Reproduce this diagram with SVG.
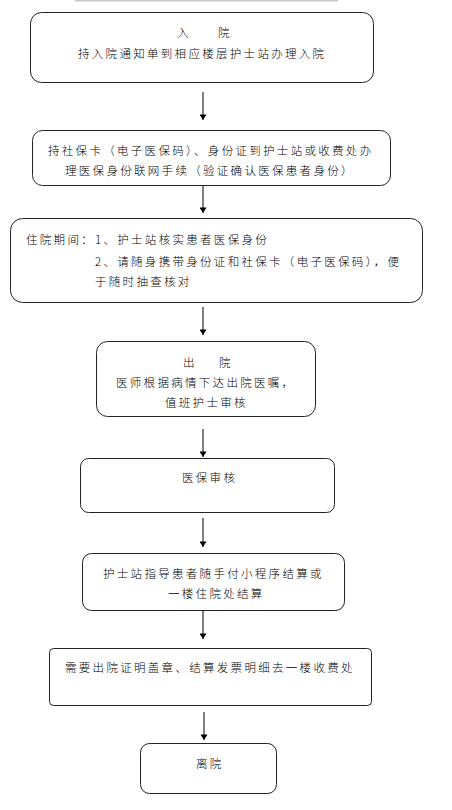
<svg xmlns="http://www.w3.org/2000/svg" width="452" height="810" viewBox="0 0 452 810">
<defs>
<marker id="ah" viewBox="0 0 8 10" refX="8" refY="5" markerWidth="8" markerHeight="7" markerUnits="userSpaceOnUse" orient="auto">
<path d="M0,0 L8,5 L0,10 z" fill="#000"/>
</marker>
</defs>
<style>
.box{fill:#fff;stroke:#222;stroke-width:1}
.t{font-family:"Noto Sans CJK SC","Noto Sans",sans-serif;font-size:11.5px;font-weight:300;letter-spacing:2.3px;fill:#000}
.c{stroke:#000;stroke-width:1;fill:none;marker-end:url(#ah)}
</style>
<rect x="75" y="0" width="263" height="1.5" fill="#c8c8c8"/>
<g id="connectors">
<line class="c" x1="203" y1="92" x2="203" y2="120"/>
<line class="c" x1="203" y1="186" x2="203" y2="213"/>
<line class="c" x1="203" y1="307" x2="203" y2="335"/>
<line class="c" x1="203" y1="429" x2="203" y2="457"/>
<line class="c" x1="203" y1="518" x2="203" y2="547"/>
<line class="c" x1="203" y1="611" x2="203" y2="639"/>
<line class="c" x1="204" y1="712" x2="204" y2="740"/>
</g>
<g id="n1">
<rect class="box" x="30.5" y="12.5" width="343" height="70" rx="11"/>
<text class="t" x="177" y="37">入<tspan x="218">院</tspan></text>
<text class="t" x="78" y="58">持入院通知单到相应楼层护士站办理入院</text>
</g>
<g id="n2">
<rect class="box" x="32.5" y="130.5" width="358" height="55" rx="10"/>
<text class="t" x="48" y="155">持社保卡（电子医保码）、身份证到护士站或收费处办</text>
<text class="t" x="65" y="175">理医保身份联网手续（验证确认医保患者身份）</text>
</g>
<g id="n3">
<rect class="box" x="10.5" y="218.5" width="412" height="84" rx="12"/>
<text class="t" x="26" y="244">住院期间：1、护士站核实患者医保身份</text>
<text class="t" x="95" y="266" letter-spacing="1.9">2、请随身携带身份证和社保卡（电子医保码），便</text>
<text class="t" x="95" y="286">于随时抽查核对</text>
</g>
<g id="n4">
<rect class="box" x="96.5" y="341.5" width="219" height="75" rx="11"/>
<text class="t" x="183" y="367">出<tspan x="219">院</tspan></text>
<text class="t" x="116" y="387">医师根据病情下达出院医嘱，</text>
<text class="t" x="165" y="407">值班护士审核</text>
</g>
<g id="n5">
<rect class="box" x="80.5" y="458.5" width="254" height="54" rx="8"/>
<text class="t" x="182" y="482">医保审核</text>
</g>
<g id="n6">
<rect class="box" x="82.5" y="553.5" width="262" height="57" rx="9"/>
<text class="t" x="103" y="578">护士站指导患者随手付小程序结算或</text>
<text class="t" x="168" y="598">一楼住院处结算</text>
</g>
<g id="n7">
<rect class="box" x="49.5" y="648.5" width="322" height="57" rx="4"/>
<text class="t" x="65" y="672">需要出院证明盖章、结算发票明细去一楼收费处</text>
</g>
<g id="n8">
<rect class="box" x="140.5" y="743.5" width="136" height="50" rx="9"/>
<text class="t" x="196" y="768">离院</text>
</g>
</svg>
